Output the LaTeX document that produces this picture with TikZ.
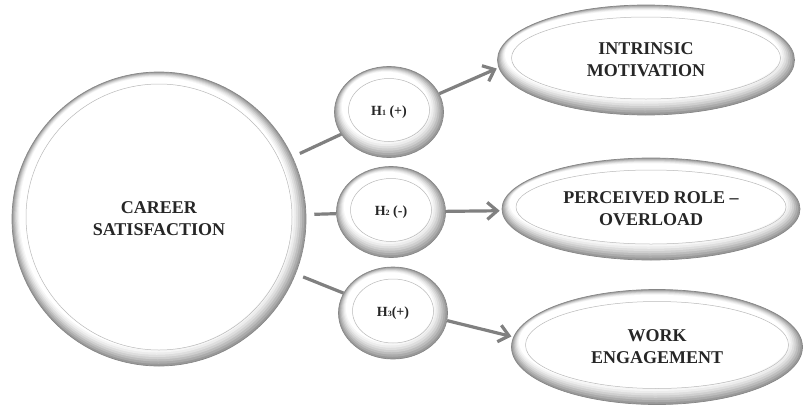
\documentclass[tikz,border=0pt]{standalone}
\usepackage{fontspec}
\setmainfont{Liberation Serif}
\usetikzlibrary{shapes.geometric,arrows.meta}

\newcommand{\hyplabel}[2]{H{\fontsize{8}{9}\selectfont #1}#2}

\begin{document}
\begin{tikzpicture}[x=1pt, y=-1pt,
    bubble/.style 2 args = {
      ellipse, minimum width=#1pt, minimum height=#2pt, inner sep=0pt,
      align=center, draw=gray!95, line width=0.7pt,
      path picture={
        \foreach \w/\tone in {0/80,1.5/66,3/52,4.5/38,6/26,7.5/15,9/7,10.5/0}
          \fill[gray!\tone] ([xshift=-0.3*\w pt, yshift=0.5*\w pt]path picture bounding box.center)
            ellipse ({#1/2-\w} and {#2/2-\w});
        \draw[gray!55, line width=0.5pt] ([yshift=2pt]path picture bounding box.center)
          ellipse ({#1/2-14} and {#2/2-14});
      }},
    big/.style   = {font=\fontsize{18}{22}\selectfont\bfseries},
    hyp/.style   = {font=\fontsize{14}{16}\selectfont\bfseries},
    link/.style  = {draw=gray, line width=3.2pt},
    arrow/.style = {link, -{Straight Barb[length=10pt, width=17pt]}, shorten >=2pt}
  ]
  \tikzset{every node/.style={anchor=center, text=black!85}}
  \useasboundingbox (0,0) rectangle (805,407);

  % outcome bubbles
  \node [bubble={294}{294}, big] (career) at (159,219) {CAREER\\SATISFACTION};
  \node [bubble={297}{110}, big] (intrinsic) at (646,60)  {INTRINSIC\\MOTIVATION};
  \node [bubble={298}{102}, big] (overload)  at (651,209) {PERCEIVED ROLE --\\OVERLOAD};
  \node [bubble={291}{115}, big] (engage)    at (657,347) {WORK\\ENGAGEMENT};

  % hypotheses
  \node [bubble={109}{91}, hyp] (h1) at (389,112) {\hyplabel{1}{ (+)}};
  \node [bubble={109}{91}, hyp] (h2) at (391,212) {\hyplabel{2}{ (-)}};
  \node [bubble={109}{92}, hyp] (h3) at (393,313) {\hyplabel{3}{(+)}};

  \path
    (career) edge [link, shorten <=8pt] (h1)
    (career) edge [link, shorten <=8pt] (h2)
    (career) edge [link, shorten <=8pt] (h3)
    (h1.20)  edge [arrow] (intrinsic.183)
    (h2)     edge [arrow] (overload)
    (h3.-8)  edge [arrow] (engage.176);
\end{tikzpicture}
\end{document}
